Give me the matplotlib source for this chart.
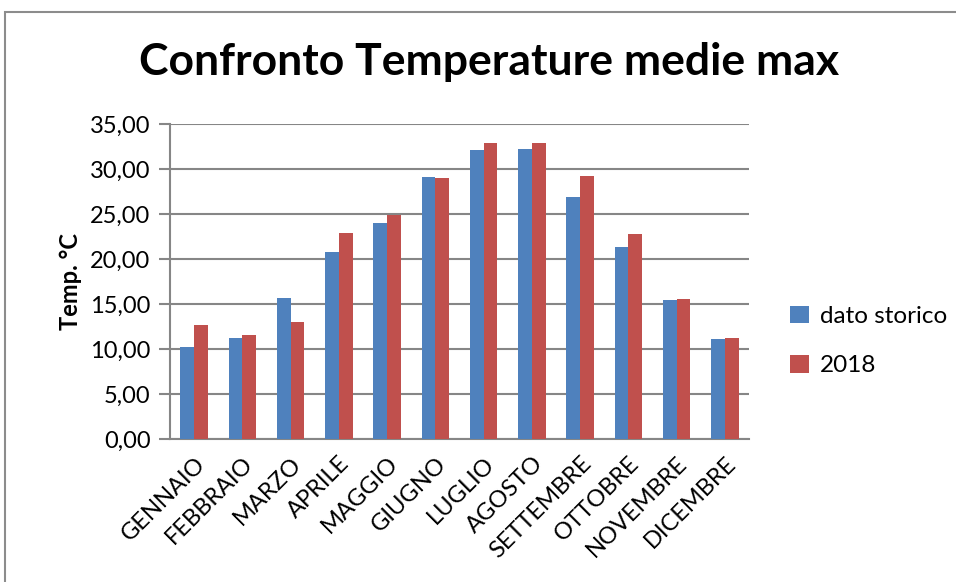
"""
Bar chart comparing historical average max temperatures with 2018.
"""
import matplotlib
matplotlib.use("Agg")
import matplotlib.pyplot as plt
import numpy as np
from matplotlib.patches import Rectangle
from matplotlib.ticker import FuncFormatter, MultipleLocator

months = ["GENNAIO", "FEBBRAIO", "MARZO", "APRILE", "MAGGIO", "GIUGNO",
          "LUGLIO", "AGOSTO", "SETTEMBRE", "OTTOBRE", "NOVEMBRE", "DICEMBRE"]
storico = [10.24, 11.2, 15.66, 20.79, 23.97, 29.08,
           32.15, 32.22, 26.9, 21.35, 15.5, 11.06]
anno_2018 = [12.68, 11.54, 12.98, 22.94, 24.86, 28.97,
             32.89, 32.89, 29.2, 22.83, 15.6, 11.21]

plt.rcParams["font.family"] = ["Lato", "DejaVu Sans"]

fig = plt.figure(figsize=(9.56, 5.82), dpi=100)
ax = fig.add_axes([0.1778, 0.2457, 0.6057, 0.5412])

# outer chart border
fig.patches.append(Rectangle((0.0052, -0.02), 1.05, 0.9994, transform=fig.transFigure,
                             fill=False, edgecolor="#8c8c8c", linewidth=1.5))

x = np.arange(len(months))
w = 0.285
ax.bar(x - w / 2, storico, w, color="#4F81BD", label="dato storico", zorder=3)
ax.bar(x + w / 2, anno_2018, w, color="#C0504D", label="2018", zorder=3)

ax.set_xlim(-0.5, len(months) - 0.5)
ax.set_ylim(0, 35)
ax.yaxis.set_major_locator(MultipleLocator(5))
ax.yaxis.set_major_formatter(FuncFormatter(lambda v, p: f"{v:.2f}".replace(".", ",")))
ax.grid(axis="y", color="#868686", linewidth=1.5, zorder=0)

for side in ["top", "right"]:
    ax.spines[side].set_visible(False)
for side in ["left", "bottom"]:
    ax.spines[side].set_color("#868686")
    ax.spines[side].set_linewidth(1.5)

ax.tick_params(axis="y", length=8, width=1.5, color="#868686", labelsize=17, pad=6)
ax.tick_params(axis="x", length=0, labelsize=17, pad=10)
ax.set_xticks(x)
ax.set_xticklabels(months, rotation=45, ha="right", va="top", rotation_mode="anchor")

ax.set_ylabel("Temp. °C", fontsize=17, fontweight="bold", labelpad=6)

fig.text(0.5115, 0.893, "Confronto Temperature medie max", ha="center", va="center",
         fontsize=32, fontweight="bold")

ax.legend(loc="center left", bbox_to_anchor=(1.038, 0.311), frameon=False, fontsize=17.5,
          handlelength=0.75, handleheight=0.75, handletextpad=0.45, labelspacing=1.15,
          borderaxespad=0.4)

fig.savefig("out.png", dpi=100)
